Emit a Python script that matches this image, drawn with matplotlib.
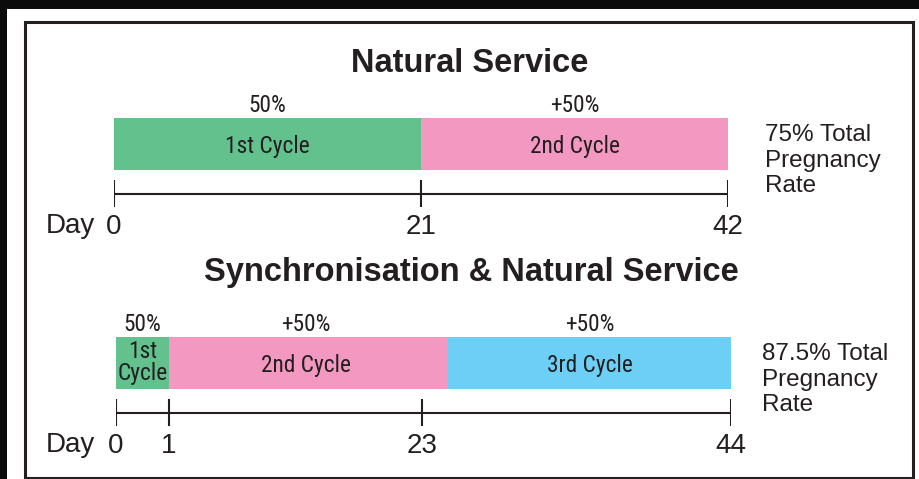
import numpy as np
import matplotlib.pyplot as plt
from matplotlib import font_manager
from matplotlib.patches import Rectangle

plt.rcParams['font.family'] = ['Liberation Sans', 'DejaVu Sans']

#----------- data
ns_title = 'Natural Service'
ns_days = [0, 21, 42]
ns_edges = [0, 21, 42]
ns_cycles = ['1st Cycle', '2nd Cycle']
ns_pct = ['50%', '+50%']
ns_total = '75% Total\nPregnancy\nRate'

sy_title = 'Synchronisation & Natural Service'
sy_days = [0, 1, 23, 44]
sy_edges = [0, 1, 24.8, 44]   # 2nd/3rd boundary sits past the day-23 tick in the drawing
sy_cycles = ['1st\nCycle', '2nd Cycle', '3rd Cycle']
sy_pct = ['50%', '+50%', '+50%']
sy_total = '87.5% Total\nPregnancy\nRate'

cycle_colors = ['#63c18e', '#f399c1', '#6dcff6']
ink = '#231f20'

# condensed face for the in-bar labels, if one is installed
fonts = {(f.name, f.stretch) for f in font_manager.fontManager.ttflist}
names = {f[0] for f in fonts}
small = dict(fontsize=14.5, family='Liberation Sans')
for cand in ['Liberation Sans Narrow', 'Roboto Condensed', 'Open Sans Condensed', 'Arial Narrow']:
    if cand in names:
        small = dict(fontsize=16.8, family=cand)
        break
else:
    for nm, st in fonts:
        if nm in ('Roboto', 'Open Sans', 'Liberation Sans') and st == 'condensed':
            small = dict(fontsize=16.8, family=nm, stretch='condensed')
            break
small['color'] = ink

#----------- layout helpers (pixel coords, y from top)
W, H = 920, 479
fig = plt.figure(figsize=(W / 100, H / 100), dpi=100, facecolor='#0b0b0b')

def box(x0, y0, x1, y1):
    return [x0 / W, 1 - y1 / H, (x1 - x0) / W, (y1 - y0) / H]

def ftext(x, y, s, **kw):
    kw.setdefault('color', ink)
    fig.text(x / W, 1 - y / H, s, **kw)

def frect(x0, y0, x1, y1, **kw):
    b = box(x0, y0, x1, y1)
    fig.add_artist(Rectangle((b[0], b[1]), b[2], b[3], transform=fig.transFigure, **kw))

frect(7, 9, 920, 479, facecolor='white', edgecolor='none', zorder=0)
frect(25.5, 21.5, 913.5, 477.5, facecolor='none', edgecolor=ink, lw=2.2, zorder=1)

#----------- one timeline row
def draw_row(ax, days, edges, cycles, pct, y_bar, y_axis):
    edges = np.array(edges, dtype=float)
    segs = list(zip(edges[:-1], np.diff(edges)))
    ax.broken_barh(segs, (y_bar, 52), facecolors=cycle_colors[:len(cycles)])
    ax.hlines(y_axis, days[0], days[-1], color=ink, lw=1.5)
    ax.vlines(days, y_axis - 14, y_axis + 13, color=ink, lw=1.5)
    for a, b, c, p in zip(edges[:-1], edges[1:], cycles, pct):
        mid = (a + b) / 2
        ax.text(mid, y_bar - 6, p, ha='center', va='baseline', **small)
        if '\n' in c:
            # baseline of a multi-line text is the last line
            ax.text(mid, y_bar + 43, c, ha='center', va='baseline', linespacing=0.95, **small)
        else:
            ax.text(mid, y_bar + 35, c, ha='center', va='baseline', **small)
    for d in days:
        ax.text(d, y_axis + 40, str(d), ha='center', va='baseline', fontsize=20, color=ink)
    ax.set_ylim(y_axis + 60, y_bar - 40)
    ax.axis('off')

# Natural service row
ax1 = fig.add_axes(box(114, 78, 728, 254))
ax1.set_xlim(ns_days[0], ns_days[-1])
draw_row(ax1, ns_days, ns_edges, ns_cycles, ns_pct, 118, 194)

# Synchronisation row - schematic, tick spacing is not to scale
sy_px = [116, 169, 422, 731]
ax2 = fig.add_axes(box(116, 297, 731, 473))
ax2.set_xscale('function', functions=(lambda x: np.interp(x, sy_days, sy_px),
                                      lambda x: np.interp(x, sy_px, sy_days)))
ax2.set_xlim(sy_days[0], sy_days[-1])
draw_row(ax2, sy_days, sy_edges, sy_cycles, sy_pct, 337, 413)

#----------- titles and side notes
ftext(470, 72, ns_title, ha='center', va='baseline', fontsize=23.5, weight='bold')
ftext(471, 281, sy_title, ha='center', va='baseline', fontsize=23.5, weight='bold')

ftext(95, 233, 'Day', ha='right', va='baseline', fontsize=20)
ftext(95, 452, 'Day', ha='right', va='baseline', fontsize=20)

ftext(765, 192, ns_total, ha='left', va='baseline', fontsize=17.5)
ftext(762, 411, sy_total, ha='left', va='baseline', fontsize=17.5)

plt.savefig('out.png', dpi=100, facecolor=fig.get_facecolor())
